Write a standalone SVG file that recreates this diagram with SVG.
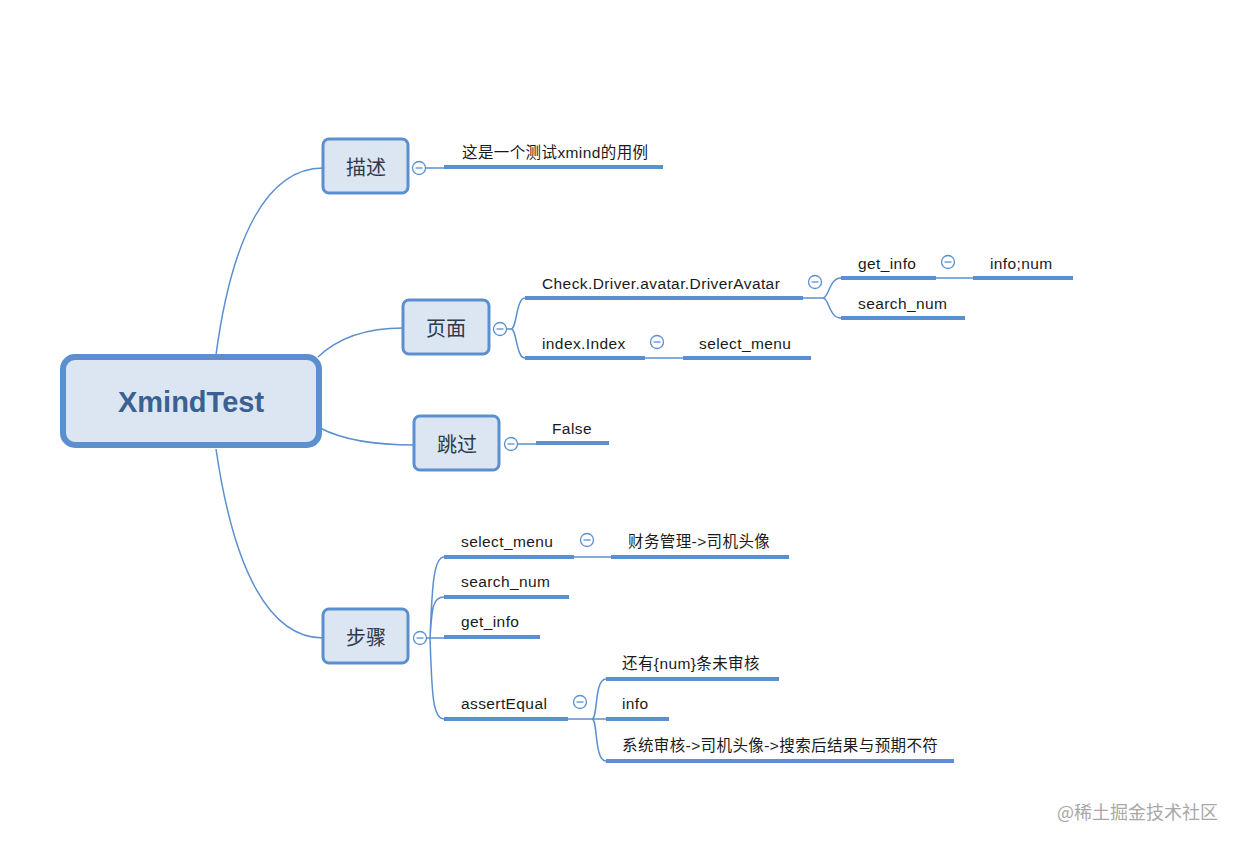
<svg xmlns="http://www.w3.org/2000/svg" width="1240" height="846" viewBox="0 0 1240 846">
<style>
.bg{fill:#ffffff}
.conn{fill:none;stroke:#5b8fd0;stroke-width:1.5}
.ul{stroke:#5b8fd0;stroke-width:4;stroke-linecap:butt}
.node rect{fill:#dce6f2;stroke:#5b8fd0;stroke-width:3}
.ntxt{font-family:"Liberation Sans","Noto Sans CJK SC",sans-serif;font-size:20px;fill:#2e3a4a;text-anchor:middle}
.root rect{fill:#dce6f2;stroke:#5b8fd0;stroke-width:6}
.rtxt{font-family:"Liberation Sans","Noto Sans CJK SC",sans-serif;font-size:29px;font-weight:bold;fill:#3a6193;text-anchor:middle}
.ltxt{font-family:"Liberation Sans","Noto Sans CJK SC",sans-serif;font-size:15.5px;letter-spacing:0.4px;fill:#1a1a1a}
.col circle{fill:#ffffff;stroke:#5b8fd0;stroke-width:1.3}
.col line{stroke:#5b8fd0;stroke-width:1.3}
.wm{font-family:"Noto Sans CJK SC",sans-serif;font-size:18px;fill:#a8a8a8}
</style>
<defs>
<g id="collapse" class="col"><circle cx="0" cy="0" r="6.5"/><line x1="-3.5" y1="0" x2="3.5" y2="0"/></g>
</defs>
<rect class="bg" x="0" y="0" width="1240" height="846"/>

<g id="connectors">
<path class="conn" d="M216,355 C232,235 268,168 323,168"/>
<path class="conn" d="M318,357 C340,336 370,328 403,328"/>
<path class="conn" d="M320,428 C345,441 380,445 414,445"/>
<path class="conn" d="M216,449 C234,572 270,638 323,638"/>
<line class="conn" x1="425" y1="168" x2="444" y2="168"/>
<path class="conn" d="M506,329 L511,329 C517,329 516,298 525,298 M511,329 C517,329 516,358 525,358"/>
<path class="conn" d="M803,298 L823,298 C829,298 829,278 841,278 M823,298 C829,298 829,318 841,318"/>
<line class="conn" x1="936" y1="278" x2="973" y2="278"/>
<line class="conn" x1="645" y1="358" x2="683" y2="358"/>
<line class="conn" x1="517" y1="444" x2="536" y2="444"/>
<path class="conn" d="M426,638 L430,638 C432,600 432,557 444,557 M430,638 C432,610 432,597 444,597 M430,638 L444,638 M430,638 C432,690 432,719 444,719"/>
<line class="conn" x1="574" y1="557" x2="611" y2="557"/>
<path class="conn" d="M568,719 L592,719 C598,719 594,679 606,679 M592,719 L606,719 M592,719 C598,719 594,761 606,761"/>
</g>

<g id="root" class="root"><rect x="63" y="357" width="256" height="88" rx="12"/><text class="rtxt" x="191" y="412">XmindTest</text></g>

<g id="n-miaoshu" class="node"><rect x="323" y="139" width="85" height="54" rx="6"/><text class="ntxt" x="366" y="175">描述</text></g>
<g id="n-yemian" class="node"><rect x="403" y="300" width="86" height="54" rx="6"/><text class="ntxt" x="446" y="336">页面</text></g>
<g id="n-tiaoguo" class="node"><rect x="414" y="416" width="85" height="54" rx="6"/><text class="ntxt" x="457" y="452">跳过</text></g>
<g id="n-buzhou" class="node"><rect x="323" y="609" width="85" height="54" rx="6"/><text class="ntxt" x="366" y="645">步骤</text></g>

<use href="#collapse" x="419" y="168"/>
<use href="#collapse" x="500" y="329"/>
<use href="#collapse" x="511" y="444"/>
<use href="#collapse" x="420" y="638"/>
<use href="#collapse" x="815" y="282"/>
<use href="#collapse" x="948" y="262"/>
<use href="#collapse" x="657" y="342"/>
<use href="#collapse" x="587" y="540"/>
<use href="#collapse" x="580" y="702"/>

<g id="t-desc"><text class="ltxt" x="462" y="158">这是一个测试xmind的用例</text><line class="ul" x1="444" y1="167" x2="663" y2="167"/></g>
<g id="t-check"><text class="ltxt" x="542" y="289">Check.Driver.avatar.DriverAvatar</text><line class="ul" x1="525" y1="298" x2="803" y2="298"/></g>
<g id="t-getinfo1"><text class="ltxt" x="858" y="269">get_info</text><line class="ul" x1="841" y1="278" x2="936" y2="278"/></g>
<g id="t-infonum"><text class="ltxt" x="990" y="269">info;num</text><line class="ul" x1="973" y1="278" x2="1073" y2="278"/></g>
<g id="t-searchnum1"><text class="ltxt" x="858" y="309">search_num</text><line class="ul" x1="841" y1="318" x2="965" y2="318"/></g>
<g id="t-index"><text class="ltxt" x="542" y="349">index.Index</text><line class="ul" x1="525" y1="358" x2="645" y2="358"/></g>
<g id="t-selectmenu1"><text class="ltxt" x="699" y="349">select_menu</text><line class="ul" x1="683" y1="358" x2="811" y2="358"/></g>
<g id="t-false"><text class="ltxt" x="552" y="434">False</text><line class="ul" x1="536" y1="443" x2="609" y2="443"/></g>
<g id="t-selectmenu2"><text class="ltxt" x="461" y="547">select_menu</text><line class="ul" x1="444" y1="557" x2="574" y2="557"/></g>
<g id="t-caiwu"><text class="ltxt" x="628" y="547">财务管理-&gt;司机头像</text><line class="ul" x1="611" y1="557" x2="789" y2="557"/></g>
<g id="t-searchnum2"><text class="ltxt" x="461" y="587">search_num</text><line class="ul" x1="444" y1="597" x2="569" y2="597"/></g>
<g id="t-getinfo2"><text class="ltxt" x="461" y="627">get_info</text><line class="ul" x1="444" y1="637" x2="540" y2="637"/></g>
<g id="t-assert"><text class="ltxt" x="461" y="709">assertEqual</text><line class="ul" x1="444" y1="719" x2="568" y2="719"/></g>
<g id="t-haiyou"><text class="ltxt" x="622" y="669">还有{num}条未审核</text><line class="ul" x1="606" y1="679" x2="779" y2="679"/></g>
<g id="t-info"><text class="ltxt" x="622" y="709">info</text><line class="ul" x1="606" y1="719" x2="669" y2="719"/></g>
<g id="t-xitong"><text class="ltxt" x="622" y="751">系统审核-&gt;司机头像-&gt;搜索后结果与预期不符</text><line class="ul" x1="606" y1="761" x2="954" y2="761"/></g>

<text class="wm" x="1057" y="819">@稀土掘金技术社区</text>
</svg>
